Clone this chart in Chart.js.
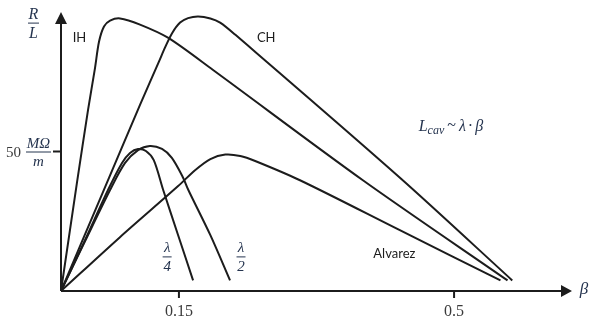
<!DOCTYPE html>
<html>
<head>
<meta charset="utf-8">
<script src="https://cdn.jsdelivr.net/npm/chart.js@4.4.0/dist/chart.umd.min.js"></script>
<style>
  html, body { margin: 0; padding: 0; background: #fff; }
  #wrap { width: 596px; height: 323px; position: relative; }
</style>
</head>
<body>
<div id="wrap"><canvas id="rl"></canvas></div>
<script>
/* R/L vs beta for the usual cavity families */

// ── data ───────────────────────────────────
const ihBeta = [0, 0.0204, 0.0344, 0.0433, 0.0484, 0.0547, 0.0624, 0.0751, 0.1005, 0.136, 0.193, 0.384, 0.568];
const ihR    = [0, 39.0, 64.9, 80.0, 89.4, 94.8, 96.9, 97.7, 95.5, 90.8, 79.3, 39.7, 3.8];

const chBeta = [0, 0.0535, 0.1005, 0.125, 0.1324, 0.1413, 0.1515, 0.1616, 0.1744, 0.19, 0.2024, 0.2215, 0.4315, 0.574];
const chR    = [0, 35.5, 66.7, 82.5, 87.3, 92.4, 96.2, 97.8, 98.4, 97.7, 96.2, 91.9, 40.5, 3.8];

const quarterBeta = [0, 0.0305, 0.0598, 0.0776, 0.0878, 0.098, 0.108, 0.118, 0.130, 0.149, 0.168];
const quarterR    = [0, 18.2, 36.2, 45.9, 49.5, 50.9, 50.2, 46.9, 36.2, 20.0, 3.8];

const halfBeta = [0, 0.0305, 0.0624, 0.0815, 0.098, 0.113, 0.1285, 0.141, 0.155, 0.162, 0.190, 0.215];
const halfR    = [0, 17.8, 36.2, 45.9, 50.5, 52.0, 50.9, 47.7, 40.8, 36.2, 20.0, 3.8];

const alvBeta = [0, 0.075, 0.149, 0.1705, 0.19, 0.209, 0.228, 0.247, 0.304, 0.431, 0.559];
const alvR    = [0, 19.3, 37.6, 43.3, 47.3, 48.9, 48.4, 46.6, 39.7, 21.8, 3.8];

const xTicks = [0.15, 0.5];
const xTickLabels = ['0.15', '0.5'];
const yTicks = [50];
const yTickLabels = ['50'];

const zip = (xs, ys) => xs.map((x, i) => ({ x, y: ys[i] }));

const INK  = '#1c1c1c';
const NAVY = '#25344f';
const GREY = '#3a3a3a';
const MATH = '"Liberation Serif", "DejaVu Serif", serif';
const SANS = 'Lato, "Liberation Sans", sans-serif';

// ── helpers ───────────────────────────────
const frac = (ctx, num, den, cx, barY, size, color, barW) => {
  ctx.save();
  ctx.fillStyle = color; ctx.strokeStyle = color;
  ctx.font = `italic ${size}px ${MATH}`;
  ctx.textAlign = 'center'; ctx.textBaseline = 'alphabetic';
  ctx.fillText(num, cx, barY - 4);
  ctx.textBaseline = 'top';
  ctx.fillText(den, cx, barY + 3);
  ctx.lineWidth = 1;
  ctx.beginPath(); ctx.moveTo(cx - barW / 2, barY + 0.5); ctx.lineTo(cx + barW / 2, barY + 0.5); ctx.stroke();
  ctx.restore();
};

const decor = {
  id: 'decor',
  afterDraw(chart) {
    const { ctx, chartArea: a, scales: { x, y } } = chart;
    const px = v => x.getPixelForValue(v);
    const py = v => y.getPixelForValue(v);
    const x0 = px(0), y0 = py(0);

    ctx.save();
    // axes + arrowheads
    ctx.strokeStyle = INK; ctx.fillStyle = INK; ctx.lineWidth = 2;
    ctx.beginPath();
    ctx.moveTo(x0, y0); ctx.lineTo(a.right - 8, y0);
    ctx.moveTo(x0, y0); ctx.lineTo(x0, a.top + 8);
    ctx.stroke();
    ctx.beginPath();
    ctx.moveTo(a.right, y0); ctx.lineTo(a.right - 11, y0 - 6); ctx.lineTo(a.right - 11, y0 + 6); ctx.closePath();
    ctx.moveTo(x0, a.top); ctx.lineTo(x0 - 6, a.top + 12); ctx.lineTo(x0 + 6, a.top + 12); ctx.closePath();
    ctx.fill();

    // ticks
    ctx.lineWidth = 2;
    xTicks.forEach((t, i) => {
      const tx = px(t);
      ctx.beginPath(); ctx.moveTo(tx, y0); ctx.lineTo(tx, y0 + 7); ctx.stroke();
      ctx.fillStyle = GREY; ctx.font = `16px ${MATH}`;
      ctx.textAlign = 'center'; ctx.textBaseline = 'alphabetic';
      ctx.fillText(xTickLabels[i], tx, y0 + 25);
    });
    yTicks.forEach((t, i) => {
      const ty = py(t);
      ctx.beginPath(); ctx.moveTo(x0, ty); ctx.lineTo(x0 - 8, ty); ctx.stroke();
      ctx.fillStyle = GREY; ctx.font = `15px ${MATH}`;
      ctx.textAlign = 'right'; ctx.textBaseline = 'alphabetic';
      ctx.fillText(yTickLabels[i], x0 - 40, ty + 5);
      frac(ctx, 'MΩ', 'm', x0 - 22.5, ty, 15, NAVY, 25);
    });

    // axis titles
    frac(ctx, 'R', 'L', x0 - 27.5, py(96.2), 16, NAVY, 11);
    ctx.fillStyle = NAVY; ctx.font = `italic 17px ${MATH}`;
    ctx.textAlign = 'center'; ctx.textBaseline = 'alphabetic';
    ctx.fillText('β', a.right + 12, y0 + 3);

    // curve names
    ctx.fillStyle = INK; ctx.font = `13px ${SANS}`;
    ctx.textAlign = 'center'; ctx.textBaseline = 'middle';
    ctx.fillText('IH', px(0.0235), py(90.8));
    ctx.fillText('CH', px(0.261), py(90.8));
    ctx.fillText('Alvarez', px(0.424), py(13.5));

    frac(ctx, 'λ', '4', px(0.135), py(12.4), 15, NAVY, 9);
    frac(ctx, 'λ', '2', px(0.229), py(12.4), 15, NAVY, 9);

    // L_cav ~ λ·β
    let lx = px(0.455), ly = py(57.2);
    ctx.fillStyle = NAVY; ctx.textAlign = 'left'; ctx.textBaseline = 'alphabetic';
    ctx.font = `italic 16px ${MATH}`;
    ctx.fillText('L', lx, ly); lx += ctx.measureText('L').width;
    ctx.font = `italic 12px ${MATH}`;
    ctx.fillText('cav', lx, ly + 3); lx += ctx.measureText('cav').width + 3;
    ctx.font = `16px ${MATH}`;
    ctx.fillText('~', lx, ly - 1); lx += ctx.measureText('~').width + 3;
    ctx.font = `italic 16px ${MATH}`;
    ctx.fillText('λ', lx, ly); lx += ctx.measureText('λ').width + 2;
    ctx.font = `16px ${MATH}`;
    ctx.fillText('·', lx, ly); lx += ctx.measureText('·').width + 2;
    ctx.font = `italic 16px ${MATH}`;
    ctx.fillText('β', lx, ly);
    ctx.restore();
  }
};

// ── chart ─────────────────────────────────
const line = data => ({
  data, showLine: true, fill: false,
  borderColor: INK, borderWidth: 2,
  pointRadius: 0, tension: 0.3
});

new Chart(document.getElementById('rl'), {
  type: 'scatter',
  data: {
    datasets: [
      line(zip(ihBeta, ihR)),
      line(zip(chBeta, chR)),
      line(zip(quarterBeta, quarterR)),
      line(zip(halfBeta, halfR)),
      line(zip(alvBeta, alvR))
    ]
  },
  options: {
    responsive: true, maintainAspectRatio: false, animation: false,
    layout: { padding: { left: 61, right: 24, top: 12, bottom: 32 } },
    scales: {
      x: { type: 'linear', min: 0, max: 0.65, display: false },
      y: { type: 'linear', min: 0, max: 100, display: false }
    },
    plugins: { legend: { display: false }, tooltip: { enabled: false } }
  },
  plugins: [decor]
});
</script>
</body>
</html>
